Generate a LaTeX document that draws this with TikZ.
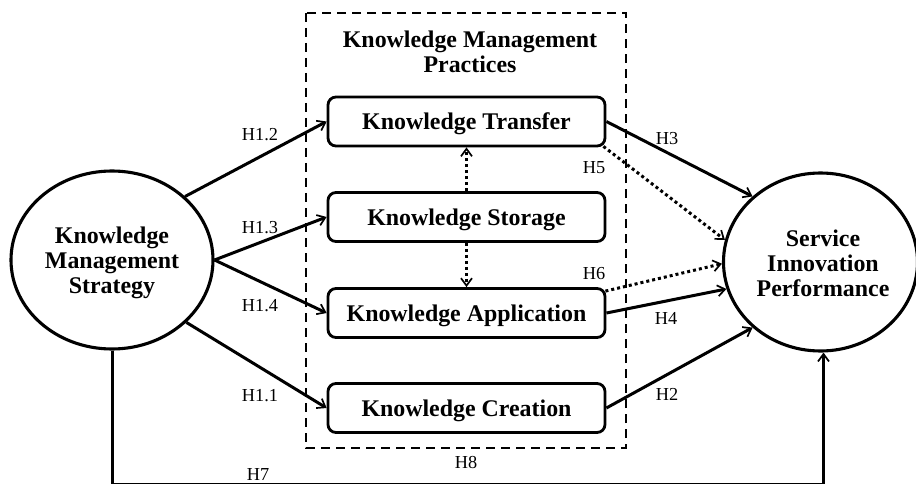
\documentclass[tikz,border=0pt]{standalone}
\usepackage{fontspec}
\setmainfont{Liberation Serif}
\usetikzlibrary{shapes.geometric,arrows.meta}
\begin{document}
\begin{tikzpicture}[x=1pt,y=-1pt,
  bfont/.style={font=\fontsize{23.9}{25}\selectfont\bfseries},
  lab/.style={font=\fontsize{18.3}{20}\selectfont, inner sep=0pt},
  kbox/.style={draw, line width=2.8pt, rounded corners=8pt, minimum width=277pt, minimum height=49pt, inner sep=0pt, text height=22pt, text depth=5pt, bfont},
  oval/.style={draw, ellipse, line width=3.1pt, inner sep=0pt},
  otext/.style={bfont, align=center, inner sep=0pt},
  tip/.style={-{Straight Barb[length=7.5pt,width=11pt,line width=1.7pt]}},
  arr/.style={tip, line width=3pt},
  dotarr/.style={tip, line width=3pt, dash pattern=on 3pt off 3pt},
]
\useasboundingbox (0,0) rectangle (916,484);
% dashed frame
\draw[line width=2.8pt, dash pattern=on 9pt off 6pt] (306,13) rectangle (626,448);
\node[bfont, align=center] (title) at (470,52) {Knowledge Management\\Practices};
% boxes
\node[kbox] (T) at (466.5,121.5) {Knowledge Transfer};
\node[kbox] (S) at (466.5,217) {Knowledge Storage};
\node[kbox] (A) at (466.5,313) {Knowledge Application};
\node[kbox] (C) at (466.5,408) {Knowledge Creation};
% ellipses
\node[oval, minimum width=202pt, minimum height=178pt] (L) at (112,260) {};
\node[otext] (Lt) at (112,263) {Knowledge\\Management\\Strategy};
\node[oval, minimum width=194pt, minimum height=178pt] (R) at (820.5,262) {};
\node[otext] (Rt) at (823,263.5) {Service\\Innovation\\Performance};
% left arrows
\draw[arr] (L.41) -- (T.west);
\draw[arr] (L.east) -- (S.west);
\draw[arr] (L.east) -- (A.west);
\draw[arr] (L.-40) -- (C.west);
% dotted verticals
\draw[dotarr] (S.north) -- (T.south);
\draw[dotarr] (S.south) -- (A.north);
% right arrows
\draw[arr] (T.east) -- (R.136);
\draw[dotarr] ([xshift=-3pt,yshift=1pt]T.south east) -- (R.167);
\draw[dotarr] ([xshift=-1pt,yshift=-4pt]A.north east) -- (R.181);
\draw[arr] (A.east) -- (R.196);
\draw[arr] (C.east) -- (R.224);
% bottom H7 path
\coordinate (b1) at (112,484);
\coordinate (b2) at (823.5,484);
\draw[line width=3pt] (L.south) -- (b1) -- (b2);
\draw[arr] (b2) -- (b2 |- R.south);
% labels
\node[lab] (h12) at (260,135) {H1.2};
\node[lab] (h13) at (260,228) {H1.3};
\node[lab] (h14) at (260,306) {H1.4};
\node[lab] (h11) at (260,396) {H1.1};
\node[lab] (h7) at (258,475) {H7};
\node[lab] (h8) at (466,463) {H8};
\node[lab] (h3) at (667,139) {H3};
\node[lab] (h5) at (594,168) {H5};
\node[lab] (h6) at (594,274) {H6};
\node[lab] (h4) at (666,318) {H4};
\node[lab] (h2) at (667,394) {H2};
\end{tikzpicture}
\end{document}
